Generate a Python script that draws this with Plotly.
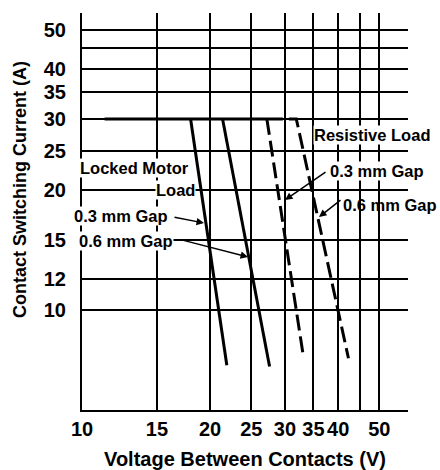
import math
import plotly.graph_objects as go

# ---- data (V, A) ----
plateau_v = [11.3, 27.2]
plateau_a = [30, 30]

motor_03_v = [18.0, 21.9]
motor_03_a = [30, 7.3]

motor_06_v = [21.4, 27.6]
motor_06_a = [30, 7.25]

res_03_v = [27.2, 33.1]
res_03_a = [30, 7.75]

res_06_v = [27.2, 31.9, 42.3]
res_06_a = [30, 30, 7.6]

x_ticks = [10, 15, 20, 25, 30, 35, 40, 45, 50]
x_labels = ["10", "15", "20", "25", "30", "35", "40", "", "50"]
y_ticks = [10, 12, 15, 20, 25, 30, 35, 40, 45, 50]
y_labels = ["10", "12", "15", "20", "25", "30", "35", "40", "", "50"]

FONT = "Liberation Sans, Arial, sans-serif"
W, H = 440, 470
L, R, T, B = 82, 32, 13, 60
PW, PH = W - L - R, H - T - B


def px(xp):
    return (xp - L) / PW


def py(yp):
    return (H - B - yp) / PH


fig = go.Figure()
solid = dict(color="black", width=3)
dashed = dict(color="black", width=3, dash="16px,6px")
fig.add_trace(go.Scatter(x=plateau_v, y=plateau_a, mode="lines", line=solid))
fig.add_trace(go.Scatter(x=motor_03_v, y=motor_03_a, mode="lines", line=solid))
fig.add_trace(go.Scatter(x=motor_06_v, y=motor_06_a, mode="lines", line=solid))
fig.add_trace(go.Scatter(x=res_03_v, y=res_03_a, mode="lines", line=dashed))
fig.add_trace(go.Scatter(x=res_06_v, y=res_06_a, mode="lines", line=dashed))

lab_font = dict(family=FONT, size=16.5, color="black", weight="bold")
labels = [
    ("Locked Motor", 79, 168, True),
    ("Load", 155, 190, True),
    ("0.3 mm Gap", 73, 216, True),
    ("0.6 mm Gap", 78, 241, True),
    ("Resistive Load", 313, 135, True),
    ("0.3 mm Gap", 329, 171, True),
    ("0.6 mm Gap", 342, 205, False),
]
ann = []
for text, xl, yc, bg in labels:
    ann.append(dict(text=text, x=px(xl), y=py(yc), xref="paper", yref="paper",
                    xanchor="left", yanchor="middle", showarrow=False,
                    font=lab_font, bgcolor="white" if bg else None, borderpad=0))

arrows = [
    (204, 223, -31, -6),
    (248, 257, -66, -17),
    (285, 200, 42, -29),
    (319, 217, 23, -18),
]
for hx, hy, ax, ay in arrows:
    ann.append(dict(text="", x=px(hx), y=py(hy), xref="paper", yref="paper",
                    showarrow=True, ax=ax, ay=ay, arrowhead=2, arrowsize=1,
                    arrowwidth=1.5, arrowcolor="black", standoff=0, startstandoff=0))

ann.append(dict(text="Contact Switching Current (A)", x=px(20), y=py(190),
                xref="paper", yref="paper", textangle=-90, showarrow=False,
                xanchor="center", yanchor="middle",
                font=dict(family=FONT, size=18, color="black", weight="bold")))

fig.update_layout(
    width=W, height=H,
    margin=dict(l=L, r=R, t=T, b=B, autoexpand=False),
    paper_bgcolor="white", plot_bgcolor="white",
    showlegend=False,
    hovermode=False,
    annotations=ann,
    font=dict(family=FONT, color="black"),
    xaxis=dict(type="log", range=[1, 1.7663], tickvals=x_ticks, ticktext=x_labels,
               automargin=False,
               showgrid=True, gridcolor="black", gridwidth=2,
               showline=True, linecolor="black", linewidth=2,
               ticks="", ticklabelstandoff=0, zeroline=False,
               tickfont=dict(family=FONT, size=20, color="black", weight="bold"),
               title=dict(text="Voltage Between Contacts (V)", standoff=18,
                          font=dict(family=FONT, size=20, color="black", weight="bold"))),
    yaxis=dict(type="log", range=[0.752, 1.741], tickvals=y_ticks, ticktext=y_labels,
               automargin=False,
               showgrid=True, gridcolor="black", gridwidth=2,
               showline=True, linecolor="black", linewidth=2,
               ticks="", ticklabelstandoff=10, zeroline=False,
               tickfont=dict(family=FONT, size=20, color="black", weight="bold")),
)

fig.write_html("out.html", config={"displayModeBar": False},
               post_script="document.body.style.margin='0';")
